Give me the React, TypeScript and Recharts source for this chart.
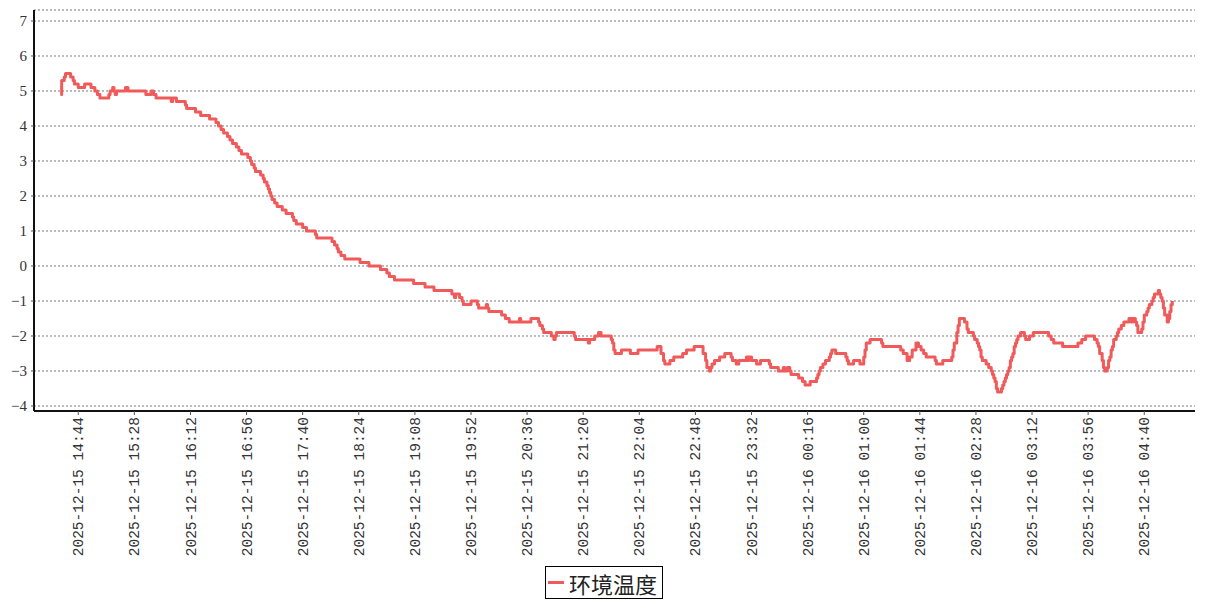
import React from 'react';
import { LineChart, Line, XAxis, YAxis, CartesianGrid, Legend } from 'recharts';

const seriesName = '环境温度';
const lineColor = '#f05a5a';

// logged readings: time of each change (HH:MM, hours before noon are 2025-12-16)
const times = [
  '14:30', '14:31', '14:33', '14:34', '14:38', '14:40', '14:41', '14:44', '14:49', '14:54',
  '14:57', '14:59', '15:01', '15:08', '15:09', '15:11', '15:12', '15:13', '15:14', '15:21',
  '15:23', '15:37', '15:41', '15:43', '15:45', '15:57', '15:58', '16:01', '16:08', '16:09',
  '16:16', '16:20', '16:27', '16:32', '16:34', '16:36', '16:38', '16:41', '16:43', '16:45',
  '16:48', '16:50', '16:52', '16:57', '16:59', '17:00', '17:02', '17:03', '17:07', '17:09',
  '17:10', '17:12', '17:13', '17:14', '17:15', '17:16', '17:18', '17:20', '17:24', '17:27',
  '17:32', '17:33', '17:35', '17:40', '17:43', '17:50', '17:51', '18:03', '18:05', '18:07',
  '18:08', '18:10', '18:13', '18:25', '18:32', '18:41', '18:46', '18:48', '18:52', '19:07',
  '19:16', '19:23', '19:37', '19:39', '19:40', '19:43', '19:45', '19:46', '19:52', '19:57',
  '19:58', '20:04', '20:05', '20:06', '20:16', '20:19', '20:22', '20:30', '20:31', '20:39',
  '20:45', '20:46', '20:48', '20:49', '20:55', '20:57', '20:58', '20:59', '21:13', '21:14',
  '21:24', '21:25', '21:29', '21:32', '21:34', '21:42', '21:43', '21:44', '21:45', '21:50',
  '21:57', '22:03', '22:18', '22:21', '22:23', '22:24', '22:28', '22:31', '22:38', '22:41',
  '22:47', '22:54', '22:56', '22:57', '22:59', '23:00', '23:01', '23:03', '23:07', '23:11',
  '23:16', '23:17', '23:20', '23:22', '23:28', '23:29', '23:30', '23:32', '23:36', '23:39',
  '23:46', '23:47', '23:53', '23:57', '23:58', '00:00', '00:02', '00:03', '00:09', '00:12',
  '00:14', '00:18', '00:23', '00:24', '00:25', '00:26', '00:28', '00:30', '00:33', '00:34',
  '00:35', '00:38', '00:46', '00:47', '00:48', '00:52', '00:57', '01:00', '01:01', '01:02',
  '01:05', '01:14', '01:15', '01:29', '01:31', '01:34', '01:36', '01:38', '01:41', '01:43',
  '01:45', '01:47', '01:49', '01:56', '01:57', '02:02', '02:09', '02:10', '02:11', '02:13',
  '02:14', '02:15', '02:19', '02:21', '02:22', '02:26', '02:27', '02:29', '02:30', '02:31',
  '02:32', '02:33', '02:36', '02:38', '02:40', '02:41', '02:42', '02:43', '02:44', '02:45',
  '02:48', '02:49', '02:50', '02:51', '02:52', '02:53', '02:54', '02:55', '02:56', '02:57',
  '02:58', '02:59', '03:00', '03:01', '03:03', '03:06', '03:07', '03:10', '03:13', '03:25',
  '03:27', '03:29', '03:36', '03:48', '03:51', '03:54', '04:01', '04:03', '04:04', '04:05',
  '04:07', '04:08', '04:09', '04:11', '04:12', '04:13', '04:14', '04:15', '04:16', '04:18',
  '04:19', '04:20', '04:22', '04:24', '04:28', '04:30', '04:31', '04:33', '04:34', '04:35',
  '04:38', '04:39', '04:40', '04:42', '04:43', '04:44', '04:46', '04:47', '04:48', '04:51',
  '04:52', '04:53', '04:54', '04:55', '04:56', '04:58', '04:59', '05:00', '05:01', '05:02',
];

const temps = [
  4.9, 5.3, 5.4, 5.5, 5.4, 5.3, 5.2, 5.1, 5.2, 5.1,
  5.0, 4.9, 4.8, 4.9, 5.0, 5.1, 5.0, 4.9, 5.0, 5.1,
  5.0, 4.9, 5.0, 4.9, 4.8, 4.7, 4.8, 4.7, 4.6, 4.5,
  4.4, 4.3, 4.2, 4.1, 4.0, 3.9, 3.8, 3.7, 3.6, 3.5,
  3.4, 3.3, 3.2, 3.1, 3.0, 2.9, 2.8, 2.7, 2.6, 2.5,
  2.4, 2.3, 2.2, 2.1, 2.0, 1.9, 1.8, 1.7, 1.6, 1.5,
  1.4, 1.3, 1.2, 1.1, 1.0, 0.9, 0.8, 0.7, 0.6, 0.5,
  0.4, 0.3, 0.2, 0.1, 0.0, -0.1, -0.2, -0.3, -0.4, -0.5,
  -0.6, -0.7, -0.8, -0.9, -0.8, -0.9, -1.0, -1.1, -1.0, -1.1,
  -1.2, -1.1, -1.2, -1.3, -1.4, -1.5, -1.6, -1.5, -1.6, -1.5,
  -1.6, -1.7, -1.8, -1.9, -2.0, -2.1, -2.0, -1.9, -2.0, -2.1,
  -2.2, -2.1, -2.0, -1.9, -2.0, -2.1, -2.2, -2.4, -2.5, -2.4,
  -2.5, -2.4, -2.3, -2.5, -2.7, -2.8, -2.7, -2.6, -2.5, -2.4,
  -2.3, -2.5, -2.7, -2.9, -3.0, -2.9, -2.8, -2.7, -2.6, -2.5,
  -2.6, -2.7, -2.8, -2.7, -2.6, -2.7, -2.6, -2.7, -2.8, -2.7,
  -2.8, -2.9, -3.0, -2.9, -3.0, -2.9, -3.0, -3.1, -3.2, -3.3,
  -3.4, -3.3, -3.2, -3.1, -3.0, -2.9, -2.8, -2.7, -2.6, -2.5,
  -2.4, -2.5, -2.6, -2.7, -2.8, -2.7, -2.8, -2.6, -2.4, -2.2,
  -2.1, -2.2, -2.3, -2.4, -2.5, -2.7, -2.6, -2.4, -2.2, -2.3,
  -2.4, -2.5, -2.6, -2.7, -2.8, -2.7, -2.6, -2.4, -2.2, -1.9,
  -1.7, -1.5, -1.6, -1.8, -1.9, -2.0, -2.1, -2.2, -2.3, -2.4,
  -2.6, -2.7, -2.8, -2.9, -3.0, -3.1, -3.2, -3.3, -3.5, -3.6,
  -3.5, -3.4, -3.3, -3.2, -3.1, -3.0, -2.9, -2.7, -2.6, -2.5,
  -2.3, -2.2, -2.1, -2.0, -1.9, -2.0, -2.1, -2.0, -1.9, -2.0,
  -2.1, -2.2, -2.3, -2.2, -2.1, -2.0, -2.1, -2.2, -2.3, -2.5,
  -2.7, -2.9, -3.0, -2.9, -2.7, -2.6, -2.4, -2.3, -2.1, -2.0,
  -1.9, -1.8, -1.7, -1.6, -1.5, -1.6, -1.5, -1.6, -1.7, -1.9,
  -1.8, -1.6, -1.4, -1.3, -1.2, -1.1, -1.0, -0.9, -0.8, -0.7,
  -0.8, -0.9, -1.0, -1.2, -1.4, -1.6, -1.5, -1.3, -1.1, -1.0,
];

const xTickLabels = [
  '2025-12-15 14:44', '2025-12-15 15:28', '2025-12-15 16:12', '2025-12-15 16:56',
  '2025-12-15 17:40', '2025-12-15 18:24', '2025-12-15 19:08', '2025-12-15 19:52',
  '2025-12-15 20:36', '2025-12-15 21:20', '2025-12-15 22:04', '2025-12-15 22:48',
  '2025-12-15 23:32', '2025-12-16 00:16', '2025-12-16 01:00', '2025-12-16 01:44',
  '2025-12-16 02:28', '2025-12-16 03:12', '2025-12-16 03:56', '2025-12-16 04:40',
];

const yTicks = [-4, -3, -2, -1, 0, 1, 2, 3, 4, 5, 6, 7];

// minutes since 2025-12-15 00:00
function toMinutes(s: string) {
  const [h, m] = s.slice(-5).split(':').map(Number);
  const nextDay = s.length > 5 ? s.slice(8, 10) === '16' : h < 12;
  return (nextDay ? 1440 : 0) + h * 60 + m;
}

const data = times.map((t, i) => ({ t: toMinutes(t), temp: temps[i] }));
const xTicks = xTickLabels.map(toMinutes);

const TimeTick = (props: any) => {
  const { x, y, payload } = props;
  const label = xTickLabels[xTicks.indexOf(payload.value)] ?? '';
  return (
    <text
      x={x}
      y={y}
      transform={`rotate(-90 ${x} ${y})`}
      textAnchor="end"
      dy="0.35em"
      fill="#333"
      style={{ fontSize: 14.5, fontFamily: "'Liberation Mono', monospace" }}
    >
      {label}
    </text>
  );
};

const ValueTick = (props: any) => {
  const { x, y, payload } = props;
  return (
    <text
      x={x}
      y={y}
      textAnchor="end"
      dy="0.35em"
      fill="#333"
      style={{ fontSize: 15, fontFamily: "'Liberation Serif', 'DejaVu Serif', serif" }}
    >
      {String(payload.value).replace('-', '\u2212')}
    </text>
  );
};

const LegendBox = () => (
  <div style={{
    boxSizing: 'border-box',
    width: 118,
    height: 33,
    border: '1px solid #000',
    background: '#fff',
    display: 'flex',
    alignItems: 'center',
  }}>
    <span style={{ display: 'inline-block', width: 16, height: 3, background: lineColor, marginLeft: 2, marginRight: 5 }} />
    <span style={{ fontSize: 22, lineHeight: '22px', color: '#222', fontFamily: "'Noto Sans CJK SC', sans-serif" }}>
      {seriesName}
    </span>
  </div>
);

export default function App() {
  return (
    <div style={{ position: 'absolute', left: 0, top: 0, width: 1207, height: 600, background: '#fff' }}>
      <LineChart width={1207} height={600} data={data} margin={{ top: 10, right: 12, left: 0, bottom: 0 }}>
        <CartesianGrid vertical={false} stroke="#777" strokeDasharray="2 2" />
        <XAxis
          dataKey="t"
          type="number"
          domain={[849.3, 1759.8]}
          allowDataOverflow
          ticks={xTicks}
          interval={0}
          height={189}
          tickSize={4}
          tickMargin={2}
          tick={<TimeTick />}
          axisLine={{ stroke: '#111', strokeWidth: 2 }}
          tickLine={{ stroke: '#555' }}
        />
        <YAxis
          type="number"
          domain={[-4.143, 7.314]}
          allowDataOverflow
          ticks={yTicks}
          interval={0}
          width={34}
          tickSize={3}
          tickMargin={4}
          tick={<ValueTick />}
          axisLine={{ stroke: '#111', strokeWidth: 2 }}
          tickLine={{ stroke: '#555' }}
        />
        <Legend
          layout="horizontal"
          verticalAlign="middle"
          align="center"
          wrapperStyle={{ left: 545, top: 566, width: 118, height: 33 }}
          content={() => <LegendBox />}
        />
        <Line
          type="stepAfter"
          dataKey="temp"
          name={seriesName}
          stroke={lineColor}
          strokeWidth={3}
          strokeLinejoin="round"
          dot={false}
          isAnimationActive={false}
        />
      </LineChart>
    </div>
  );
}
